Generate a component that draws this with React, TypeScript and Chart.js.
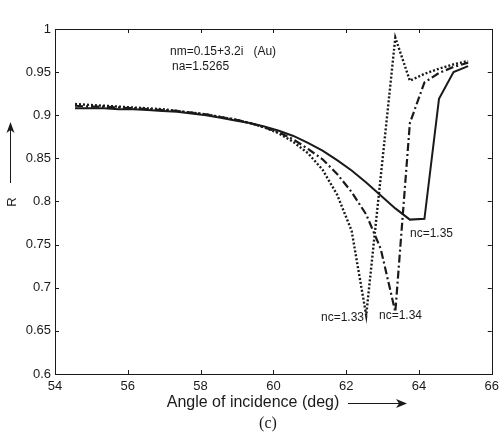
import React, { useEffect, useRef } from "react";
import { Chart, registerables } from "chart.js";

Chart.register(...registerables);

const angles = [54.55, 54.95, 55.35, 55.75, 56.15, 56.55, 56.95, 57.35, 57.75, 58.15, 58.55, 58.95, 59.35, 59.75, 60.15, 60.55, 60.95, 61.35, 61.75, 62.15, 62.55, 62.95, 63.35, 63.75, 64.15, 64.55, 64.95, 65.35];

const r135 = [0.908, 0.908, 0.908, 0.907, 0.907, 0.906, 0.905, 0.904, 0.902, 0.900, 0.897, 0.894, 0.891, 0.887, 0.882, 0.876, 0.868, 0.859, 0.848, 0.836, 0.822, 0.807, 0.792, 0.779, 0.780, 0.919, 0.950, 0.957];

const r134 = [0.911, 0.910, 0.910, 0.909, 0.908, 0.907, 0.906, 0.905, 0.903, 0.901, 0.898, 0.895, 0.891, 0.886, 0.880, 0.872, 0.861, 0.849, 0.832, 0.811, 0.785, 0.745, 0.672, 0.891, 0.938, 0.949, 0.956, 0.961];

const r133 = [0.913, 0.912, 0.911, 0.910, 0.909, 0.908, 0.907, 0.905, 0.903, 0.901, 0.898, 0.895, 0.891, 0.886, 0.879, 0.869, 0.856, 0.837, 0.808, 0.766, 0.668, 0.829, 0.990, 0.940, 0.948, 0.954, 0.959, 0.963];

const xTicks = [54, 56, 58, 60, 62, 64, 66];
const yTicks = [0.6, 0.65, 0.7, 0.75, 0.8, 0.85, 0.9, 0.95, 1];

const annotations = [
  { text: "nm=0.15+3.2i   (Au)", x: 170, y: 52 },
  { text: "na=1.5265", x: 172, y: 67 },
  { text: "nc=1.35", x: 410, y: 234 },
  { text: "nc=1.33", x: 321, y: 318 },
  { text: "nc=1.34", x: 379, y: 316 },
];

const FONT = "'Liberation Sans', Arial, Helvetica, sans-serif";
const INK = "#1a1a1a";

function toPts(ys: number[]) {
  return angles.map((a, i) => ({ x: a, y: ys[i] }));
}

const decorPlugin = {
  id: "decor",
  afterDraw(chart: any) {
    const { ctx, chartArea } = chart;
    const { left, right, top, bottom } = chartArea;
    const xs = chart.scales.x;
    const ys = chart.scales.y;
    ctx.save();
    ctx.strokeStyle = INK;
    ctx.lineWidth = 1;
    ctx.strokeRect(Math.round(left) + 0.5, Math.round(top) + 0.5, Math.round(right - left), Math.round(bottom - top));
    const tl = 4;
    ctx.beginPath();
    xTicks.forEach((v) => {
      const px = Math.round(xs.getPixelForValue(v)) + 0.5;
      ctx.moveTo(px, bottom);
      ctx.lineTo(px, bottom - tl);
      ctx.moveTo(px, top);
      ctx.lineTo(px, top + tl);
    });
    yTicks.forEach((v) => {
      const py = Math.round(ys.getPixelForValue(v)) + 0.5;
      ctx.moveTo(left, py);
      ctx.lineTo(left + tl, py);
      ctx.moveTo(right, py);
      ctx.lineTo(right - tl, py);
    });
    ctx.stroke();

    ctx.fillStyle = INK;
    ctx.font = `12px ${FONT}`;
    ctx.textBaseline = "middle";
    ctx.textAlign = "left";
    annotations.forEach((a) => ctx.fillText(a.text, a.x, a.y));

    // x title + arrow
    ctx.font = `16px ${FONT}`;
    ctx.textAlign = "center";
    ctx.fillText("Angle of incidence (deg)", 253, 403);
    ctx.beginPath();
    ctx.moveTo(348, 403.5);
    ctx.lineTo(404, 403.5);
    ctx.stroke();
    ctx.beginPath();
    ctx.moveTo(407, 403.5);
    ctx.lineTo(396, 399);
    ctx.lineTo(399, 403.5);
    ctx.lineTo(396, 408);
    ctx.closePath();
    ctx.fill();

    // y title + arrow
    ctx.save();
    ctx.translate(12, 202);
    ctx.rotate(-Math.PI / 2);
    ctx.font = `13px ${FONT}`;
    ctx.textAlign = "center";
    ctx.fillText("R", 0, 0);
    ctx.restore();
    ctx.beginPath();
    ctx.moveTo(10.5, 183);
    ctx.lineTo(10.5, 126);
    ctx.stroke();
    ctx.beginPath();
    ctx.moveTo(10.5, 122);
    ctx.lineTo(6.5, 133);
    ctx.lineTo(10.5, 130);
    ctx.lineTo(14.5, 133);
    ctx.closePath();
    ctx.fill();

    // caption
    ctx.font = `16px 'Liberation Serif', 'Times New Roman', serif`;
    ctx.textAlign = "center";
    ctx.fillText("(c)", 268, 424);
    ctx.restore();
  },
};

export default function App() {
  const ref = useRef<HTMLCanvasElement>(null);
  useEffect(() => {
    if (!ref.current) return;
    const chart = new Chart(ref.current, {
      type: "line",
      data: {
        datasets: [
          {
            label: "nc=1.35",
            data: toPts(r135),
            borderColor: INK,
            borderWidth: 2,
            pointRadius: 0,
            tension: 0,
            fill: false,
          },
          {
            label: "nc=1.34",
            data: toPts(r134),
            borderColor: INK,
            borderWidth: 2.2,
            borderDash: [8, 3, 2, 3],
            pointRadius: 0,
            tension: 0,
            fill: false,
          },
          {
            label: "nc=1.33",
            data: toPts(r133),
            borderColor: INK,
            borderWidth: 2.4,
            borderDash: [2, 2],
            pointRadius: 0,
            tension: 0,
            fill: false,
          },
        ],
      },
      options: {
        responsive: false,
        animation: false,
        devicePixelRatio: 1,
        layout: { padding: { top: 29, right: 11, left: 0, bottom: 0 } },
        plugins: { legend: { display: false }, tooltip: { enabled: false } },
        scales: {
          x: {
            type: "linear",
            min: 54,
            max: 66,
            afterFit: (s: any) => {
              s.height = 58;
            },
            afterBuildTicks: (s: any) => {
              s.ticks = xTicks.map((v) => ({ value: v }));
            },
            grid: { display: false, drawTicks: false },
            border: { display: false },
            ticks: {
              padding: 5,
              color: INK,
              font: { family: FONT, size: 13 },
              callback: (v: any) => String(v),
            },
          },
          y: {
            type: "linear",
            min: 0.6,
            max: 1,
            afterFit: (s: any) => {
              s.width = 55;
            },
            afterBuildTicks: (s: any) => {
              s.ticks = yTicks.map((v) => ({ value: v }));
            },
            grid: { display: false, drawTicks: false },
            border: { display: false },
            ticks: {
              padding: 4,
              color: INK,
              font: { family: FONT, size: 13 },
              callback: (v: any) => String(Math.round(v * 100) / 100),
            },
          },
        },
      },
      plugins: [decorPlugin],
    });
    return () => chart.destroy();
  }, []);
  return (
    <div style={{ position: "absolute", left: 0, top: 0, width: 504, height: 432, background: "#fff" }}>
      <canvas ref={ref} width={504} height={432} style={{ width: 504, height: 432 }} />
    </div>
  );
}
